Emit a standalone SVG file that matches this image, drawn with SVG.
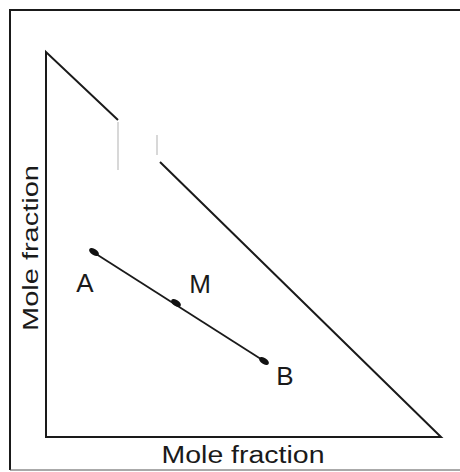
<svg xmlns="http://www.w3.org/2000/svg" width="460" height="472" viewBox="0 0 460 472">
<style>
.ln{stroke:#1a1a1a;fill:none;stroke-width:2}
.seg{stroke:#1a1a1a;fill:none;stroke-width:1.8}
.lbl{font-family:"Liberation Sans","DejaVu Sans",sans-serif;fill:#1a1a1a}
.dot{fill:#111}
</style>
<rect x="0" y="0" width="460" height="472" fill="#fff"/>
<g id="frame">
<path class="ln" d="M10,470 L10,10 L462,10"/>
<path d="M10,470 L462,470" stroke="#555" stroke-width="1" fill="none"/>
</g>
<g id="triangle">
<path class="ln" d="M118,120 L46,52 L46,437 L441,437 L160,162"/>
<path d="M118,122 L118,170 M157,135 L157,155" stroke="#ccc" stroke-width="1.5" fill="none"/>
</g>
<g id="connectors">
<path class="seg" d="M93,252 L264,361"/>
</g>
<g id="A"><ellipse class="dot" cx="94" cy="252" rx="5.5" ry="3" transform="rotate(33 94 252)"/><text class="lbl" x="85" y="292" font-size="26" text-anchor="middle">A</text></g>
<g id="M"><ellipse class="dot" cx="176" cy="303" rx="5.5" ry="3" transform="rotate(33 176 303)"/><text class="lbl" x="200" y="293" font-size="26" text-anchor="middle">M</text></g>
<g id="B"><ellipse class="dot" cx="264" cy="361" rx="5.5" ry="3" transform="rotate(33 264 361)"/><text class="lbl" x="285" y="385" font-size="26" text-anchor="middle">B</text></g>
<g id="xlabel"><text class="lbl" x="243" y="463" font-size="23" text-anchor="middle" textLength="163" lengthAdjust="spacingAndGlyphs">Mole fraction</text></g>
<g id="ylabel"><text class="lbl" x="0" y="0" font-size="22" text-anchor="middle" textLength="166" lengthAdjust="spacingAndGlyphs" transform="translate(38,248) rotate(-90)">Mole fraction</text></g>
</svg>
